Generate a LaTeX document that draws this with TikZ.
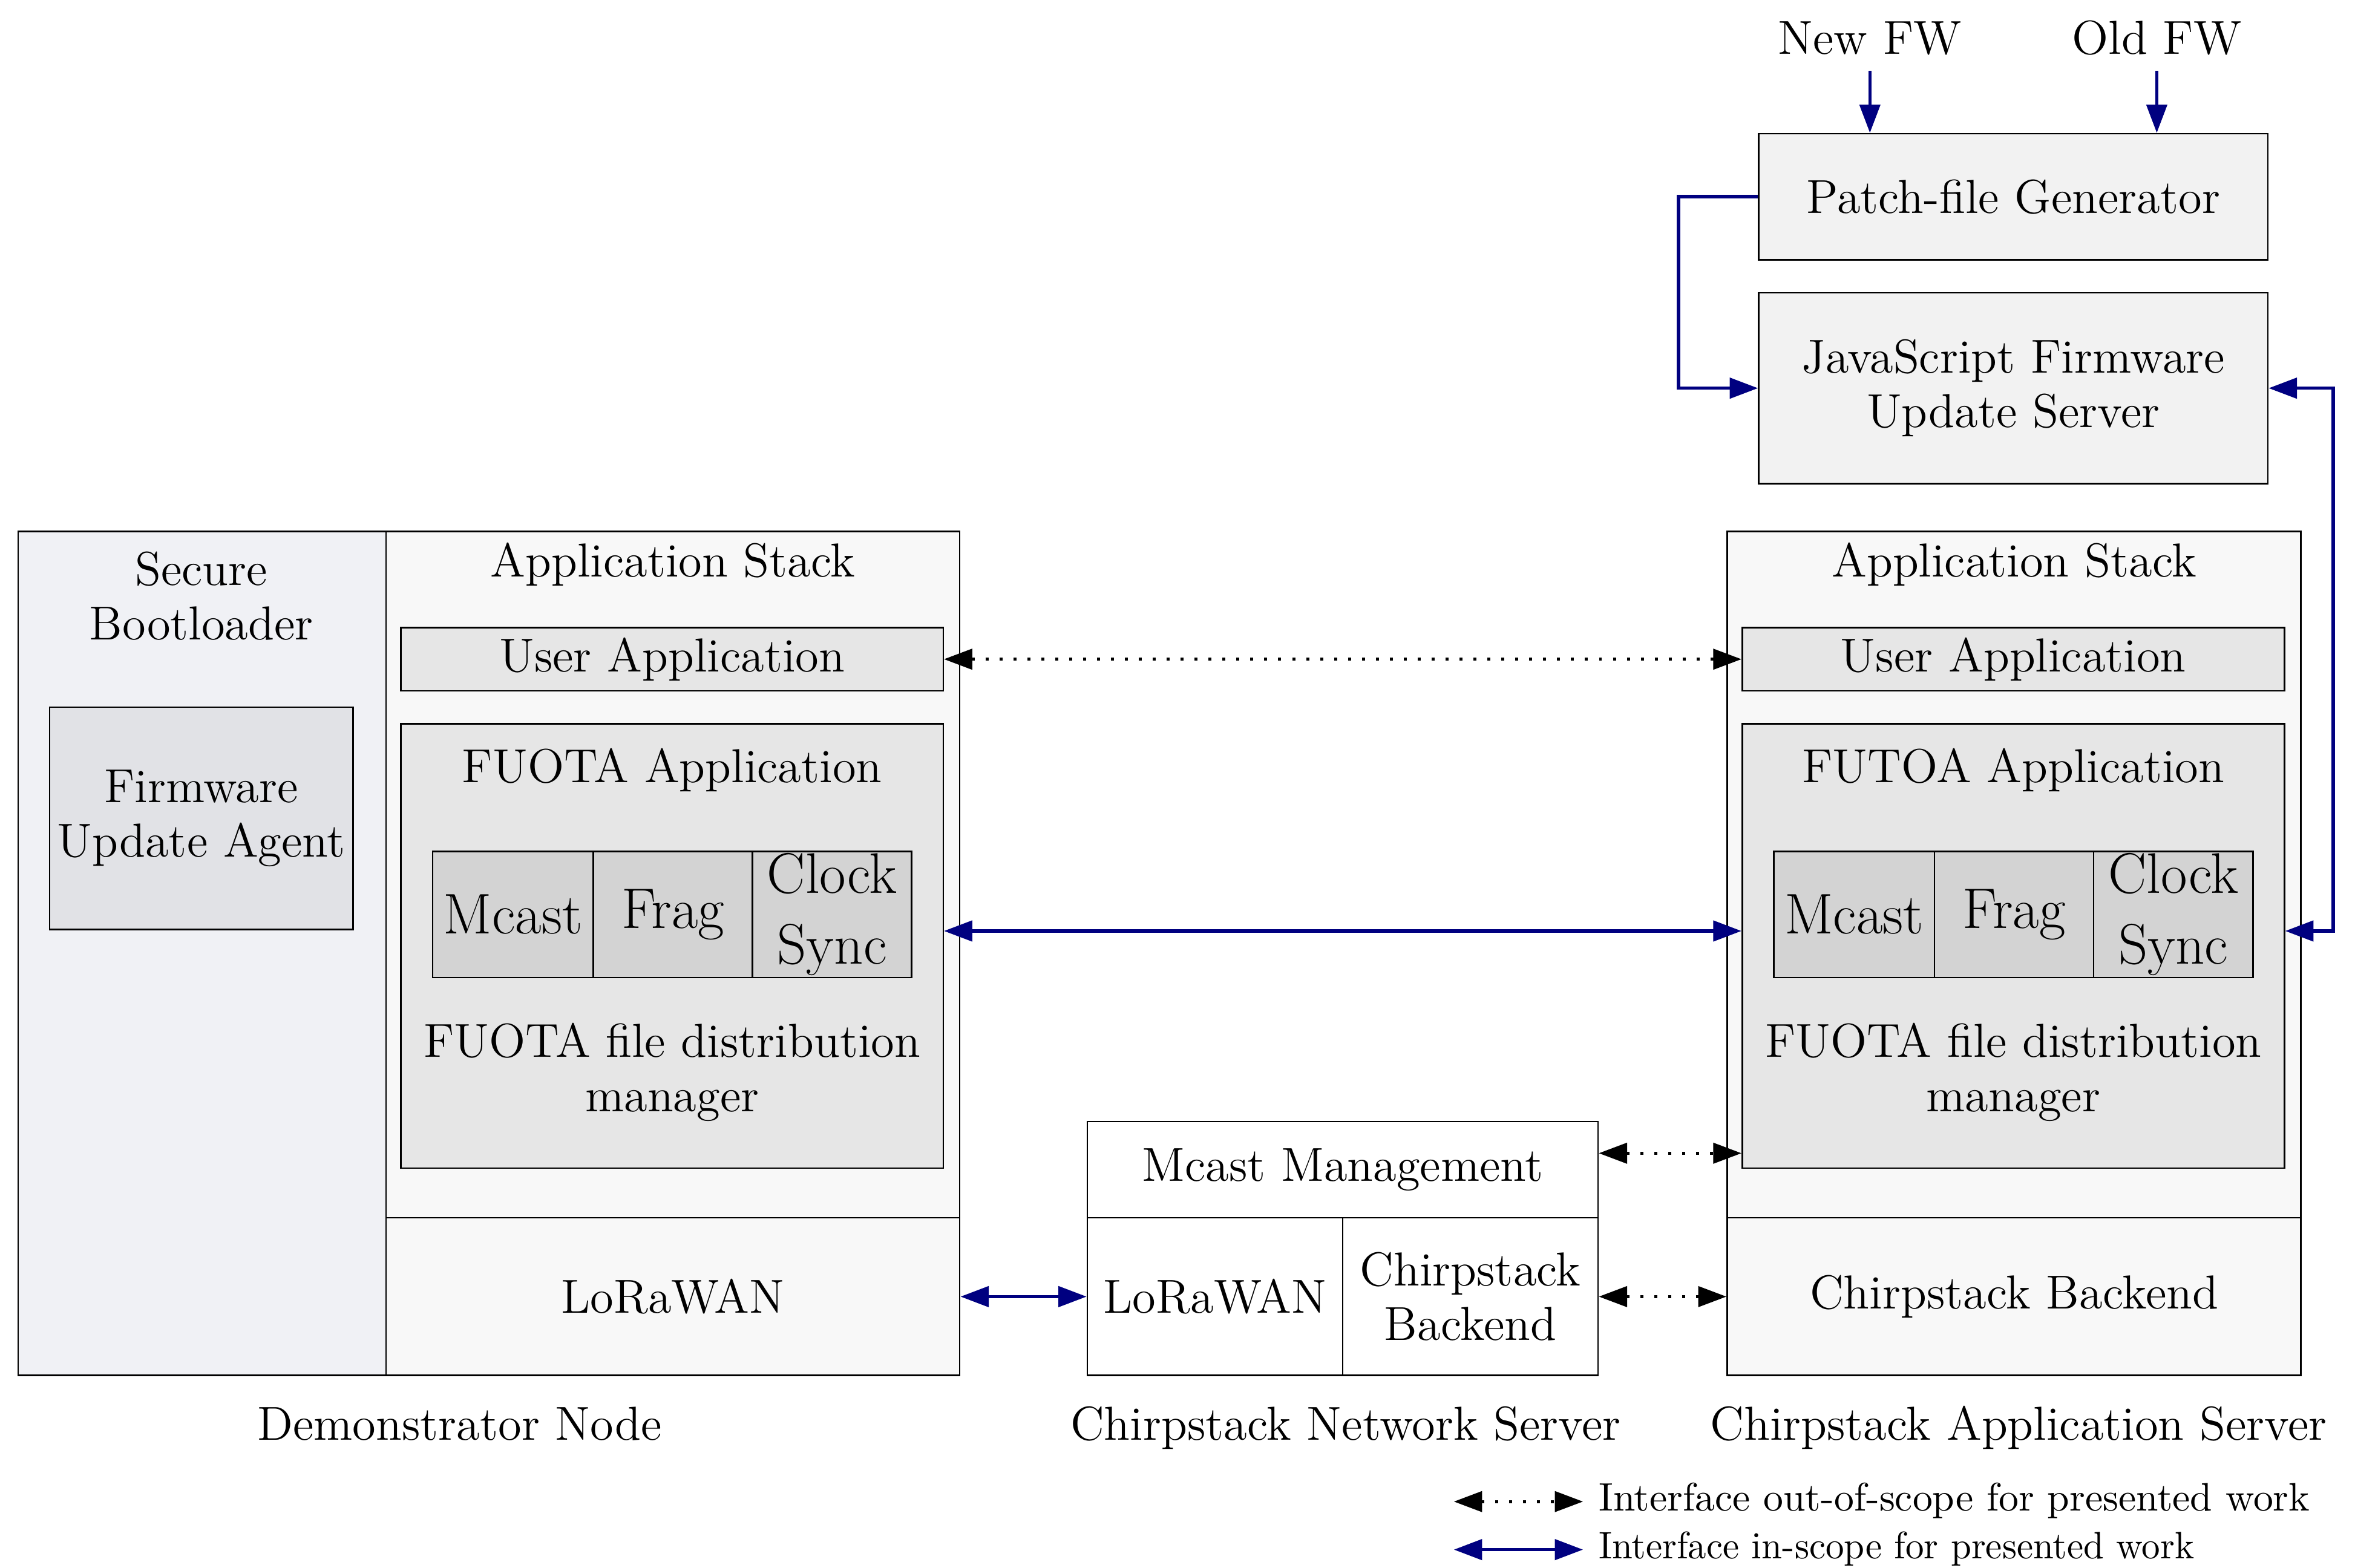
\documentclass[tikz,border=0pt]{standalone}
\usetikzlibrary{arrows.meta,calc}
\definecolor{bootfill}{HTML}{F0F1F5}
\definecolor{stackfill}{HTML}{F8F8F8}
\definecolor{fuafill}{HTML}{E1E2E6}
\definecolor{appfill}{HTML}{E6E6E6}
\definecolor{cellfill}{HTML}{D3D3D3}
\definecolor{topfill}{HTML}{F2F2F2}
\definecolor{navyc}{HTML}{000080}
\begin{document}
\begin{tikzpicture}[x=0.014cm,y=-0.014cm,
  font=\fontsize{12.66}{14.4}\selectfont,
  box/.style 2 args={draw=black, line width=0.4pt, inner sep=0pt, align=center,
     minimum width=#1*0.014cm, minimum height=#2*0.014cm},
  big/.style={font=\fontsize{15.2}{18.8}\selectfont},
  lbl/.style={inner sep=0pt, align=center},
  tipb/.tip={Triangle[length=7.5pt,width=5.4pt]},
  inscope/.style={draw=navyc, line width=0.9pt, tipb-tipb},
  inscopeone/.style={draw=navyc, line width=0.9pt, -tipb},
  outscope/.style={draw=black, line width=0.8pt, dash pattern=on 0.8pt off 2.9pt, tipb-tipb},
  legtext/.style={inner sep=0pt, anchor=base west, font=\fontsize{10.55}{12}\selectfont}]
\useasboundingbox (0,0) rectangle (1568,1044);

% ---------------- Demonstrator Node ----------------
\node[box={245}{562}, fill=bootfill] (boot) at (134.5,635) {};
\node[box={382}{457}, fill=stackfill] (stackL) at (448,582.5) {};
\node[box={382}{105}, fill=stackfill] (loraL) at (448,863.5) {LoRaWAN};
\node[lbl] (bootT) at (134,397) {Secure\\Bootloader};
\node[box={202}{148}, fill=fuafill] (fua) at (134,545) {Firmware\\Update Agent};
\node[lbl, anchor=base] (stackLT) at (448,384) {Application Stack};
\node[box={361}{42}, fill=appfill] (userL) at (447.5,439) {User Application};
\node[box={361}{296}, fill=appfill] (fuotaL) at (447.5,630) {};
\node[lbl, anchor=base] (fuotaLT) at (447.5,521) {FUOTA Application};
\node[box={107}{84}, fill=cellfill, big] (mcastL) at (341.5,609) {Mcast};
\node[box={106}{84}, fill=cellfill, big] (fragL) at (448,609) {Frag};
\node[box={106}{84}, fill=cellfill, big] (clockL) at (554,609) {Clock\\Sync};
\node[lbl] (fdmL) at (447.5,714) {FUOTA file distribution\\manager};
\node[lbl, anchor=base] (demoT) at (306,959) {Demonstrator Node};

% ---------------- Chirpstack Application Server ----------------
\node[box={382}{457}, fill=stackfill] (stackR) at (1341,582.5) {};
\node[box={382}{105}, fill=stackfill] (cbR) at (1341,863.5) {Chirpstack Backend};
\node[lbl, anchor=base] (stackRT) at (1341,384) {Application Stack};
\node[box={361}{42}, fill=appfill] (userR) at (1340.5,439) {User Application};
\node[box={361}{296}, fill=appfill] (fuotaR) at (1340.5,630) {};
\node[lbl, anchor=base] (fuotaRT) at (1340.5,521) {FUTOA Application};
\node[box={107}{84}, fill=cellfill, big] (mcastR) at (1234.5,609) {Mcast};
\node[box={106}{84}, fill=cellfill, big] (fragR) at (1341,609) {Frag};
\node[box={106}{84}, fill=cellfill, big] (clockR) at (1447,609) {Clock\\Sync};
\node[lbl] (fdmR) at (1340.5,714) {FUOTA file distribution\\manager};
\node[lbl, anchor=base] (casT) at (1344,959) {Chirpstack Application Server};

% ---------------- Chirpstack Network Server ----------------
\node[box={340}{64}, fill=white] (mm) at (894,779) {Mcast Management};
\node[box={170}{105}, fill=white] (loraN) at (809,863.5) {LoRaWAN};
\node[box={170}{105}, fill=white] (cbN) at (979,863.5) {Chirpstack\\Backend};
\node[lbl, anchor=base] (cnsT) at (896,959) {Chirpstack Network Server};

% ---------------- Update server ----------------
\node[box={339}{84}, fill=topfill] (pfg) at (1340.5,131) {Patch-file Generator};
\node[box={339}{127}, fill=topfill] (js) at (1340.5,258.5) {JavaScript Firmware\\Update Server};
\node[lbl, anchor=base] (newfw) at (1245,36) {New FW};
\node[lbl, anchor=base] (oldfw) at (1436,36) {Old FW};

% ---------------- Connectors ----------------
\coordinate (ay) at (0,620);
\coordinate (my) at (0,768);
\draw[inscopeone, shorten <=4pt] (newfw.south) -- (newfw.south |- pfg.north);
\draw[inscopeone, shorten <=4pt] (oldfw.south) -- (oldfw.south |- pfg.north);
\draw[inscopeone] (pfg.west) -- ++(-53,0) |- (js.west);
\draw[inscope] (js.east) -- ++(43,0) |- (fuotaR.east |- ay);
\draw[inscope] (fuotaL.east |- ay) -- (fuotaR.west |- ay);
\draw[inscope] (loraL.east) -- (loraN.west);
\draw[outscope] (userL.east) -- (userR.west);
\draw[outscope] (mm.east |- my) -- (fuotaR.west |- my);
\draw[outscope] (cbN.east) -- (cbR.west);

% ---------------- Legend ----------------
\coordinate (l1a) at (968,1000);
\coordinate (l1b) at (1054,1000);
\coordinate (l2a) at (968,1032);
\coordinate (l2b) at (1054,1032);
\draw[outscope] (l1a) -- (l1b);
\draw[inscope] (l2a) -- (l2b);
\node[legtext] (lt1) at (1064,1006) {Interface out-of-scope for presented work};
\node[legtext, font=\fontsize{10.15}{12}\selectfont, xscale=0.965, transform shape] (lt2) at (1064,1038) {Interface in-scope for presented work};
\end{tikzpicture}
\end{document}
